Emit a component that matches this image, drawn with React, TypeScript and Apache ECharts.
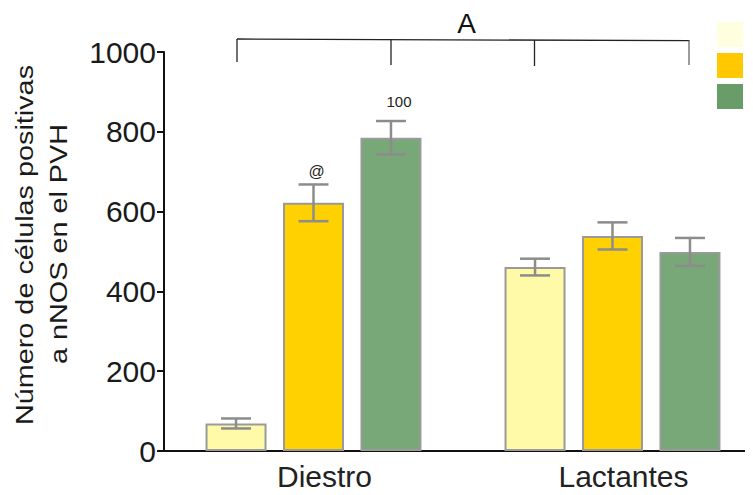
import React, { useEffect, useRef } from "react";
import * as echarts from "echarts";

const categories = ["Diestro", "Lactantes"];
const seriesNames = ["Grupo 1", "Grupo 2", "Grupo 3"];
const serie1 = [69, 461];
const serie2 = [622, 539];
const serie3 = [785, 499];
const err1 = [12.5, 21];
const err2 = [46, 34];
const err3 = [42, 35];
const yTicks = [0, 200, 400, 600, 800, 1000];
const yTitle = ["Número de células positivas", "a nNOS en el PVH"];

const barColors = ["#FFFAA8", "#FFD100", "#78A778"];
const legendColors = ["#FFFFE0", "#FFC800", "#689D6A"];

const BAR_W = 61;
const GAP = 0.27;

export default function App() {
  const ref = useRef<HTMLDivElement>(null);
  useEffect(() => {
    if (!ref.current) return;
    const chart = echarts.init(ref.current, null, { renderer: "svg" });
    const values = [serie1, serie2, serie3];
    const errs = [err1, err2, err3];
    const errData: number[][] = [];
    values.forEach((vals, s) => {
      vals.forEach((v, c) => errData.push([c, s, v, errs[s][c]]));
    });
    const font = "'Liberation Sans', Arial, sans-serif";
    const bars = values.map((vals, s) => ({
      type: "bar",
      name: seriesNames[s],
      barWidth: BAR_W,
      barGap: GAP * 100 + "%",
      itemStyle: { color: barColors[s], borderColor: "#9a9a9a", borderWidth: 2 },
      data: vals.map((v, c) => {
        if (s === 1 && c === 0)
          return { value: v, label: { show: true, position: "top", formatter: "@", distance: 23, offset: [3, 0], fontSize: 16, color: "#222", fontFamily: font } };
        if (s === 2 && c === 0)
          return { value: v, label: { show: true, position: "top", formatter: "100", distance: 29, offset: [8, 0], fontSize: 15, color: "#222", fontFamily: font } };
        return v;
      }),
    }));
    const bracket = { stroke: "#222", lineWidth: 1.3 };
    chart.setOption({
      animation: false,
      grid: { left: 164, right: 8, top: 52, bottom: 44 },
      legend: {
        orient: "vertical",
        left: 717,
        top: 22,
        padding: 0,
        icon: "rect",
        itemWidth: 26,
        itemHeight: 25,
        itemGap: 6,
        formatter: () => "",
        selectedMode: false,
        data: seriesNames.map((n, i) => ({ name: n, itemStyle: { color: legendColors[i], borderWidth: 0 } })),
      },
      xAxis: {
        type: "category",
        data: categories,
        axisLine: { lineStyle: { color: "#111", width: 2 } },
        axisTick: { show: false },
        axisLabel: { fontSize: 30, color: "#222", fontFamily: font, margin: 10, padding: [0, 0, 0, 22] },
      },
      yAxis: {
        type: "value",
        min: 0,
        max: 1000,
        interval: 200,
        splitLine: { show: false },
        axisLine: { show: true, lineStyle: { color: "#111", width: 2 } },
        axisTick: { show: true, length: 7, lineStyle: { color: "#111", width: 2 } },
        axisLabel: {
          fontSize: 30,
          color: "#1a1a1a",
          fontFamily: font,
          margin: 8,
          formatter: (v: number) => (yTicks.includes(v) ? String(v) : ""),
        },
      },
      series: [
        ...bars,
        {
          type: "custom",
          z: 5,
          data: errData,
          renderItem: (params: any, api: any) => {
            const c = api.value(0);
            const s = api.value(1);
            const v = api.value(2);
            const e = api.value(3);
            const top = api.coord([c, v + e]);
            const bot = api.coord([c, v - e]);
            const x = top[0] + (s - 1) * BAR_W * (1 + GAP);
            const hw = 15;
            const st = { stroke: "#8c8c8c", lineWidth: 2.5 };
            return {
              type: "group",
              children: [
                { type: "line", shape: { x1: x, y1: top[1], x2: x, y2: bot[1] }, style: st },
                { type: "line", shape: { x1: x - hw, y1: top[1], x2: x + hw, y2: top[1] }, style: st },
                { type: "line", shape: { x1: x - hw, y1: bot[1], x2: x + hw, y2: bot[1] }, style: st },
              ],
            };
          },
        },
      ],
      graphic: [
        { type: "line", shape: { x1: 237, y1: 39, x2: 689.5, y2: 40.7 }, style: bracket },
        { type: "line", shape: { x1: 237, y1: 39, x2: 237, y2: 62 }, style: bracket },
        { type: "line", shape: { x1: 391, y1: 39.6, x2: 391, y2: 65 }, style: bracket },
        { type: "line", shape: { x1: 534.5, y1: 40.1, x2: 534.5, y2: 66 }, style: bracket },
        { type: "line", shape: { x1: 689, y1: 40.7, x2: 689, y2: 65 }, style: { stroke: "#666", lineWidth: 1.3 } },
        { type: "text", x: 466.5, y: 23, style: { text: "A", fontSize: 28, fill: "#111", fontFamily: font, align: "center", verticalAlign: "middle" } },
        { type: "arc", shape: { cx: 733, cy: 42, r: 5, startAngle: Math.PI + 0.5, endAngle: 2 * Math.PI - 0.5 }, style: { stroke: "#333", lineWidth: 1.5, fill: "none" } },
        { type: "arc", shape: { cx: 733, cy: 72, r: 5, startAngle: Math.PI + 0.5, endAngle: 2 * Math.PI - 0.5 }, style: { stroke: "#333", lineWidth: 1.5, fill: "none" } },
        { type: "text", x: 24.5, y: 245, rotation: Math.PI / 2, scaleX: 1.2, style: { text: yTitle[0], fontSize: 24, fill: "#1a1a1a", fontFamily: font, align: "center", verticalAlign: "middle" } },
        { type: "text", x: 59, y: 244, rotation: Math.PI / 2, scaleX: 1.2, style: { text: yTitle[1], fontSize: 24, fill: "#1a1a1a", fontFamily: font, align: "center", verticalAlign: "middle" } },
      ],
    });
    return () => chart.dispose();
  }, []);
  return (
    <div style={{ width: 753, height: 495, margin: -8, overflow: "hidden", position: "relative" }}>
      <div ref={ref} style={{ width: 770, height: 495 }} />
    </div>
  );
}
